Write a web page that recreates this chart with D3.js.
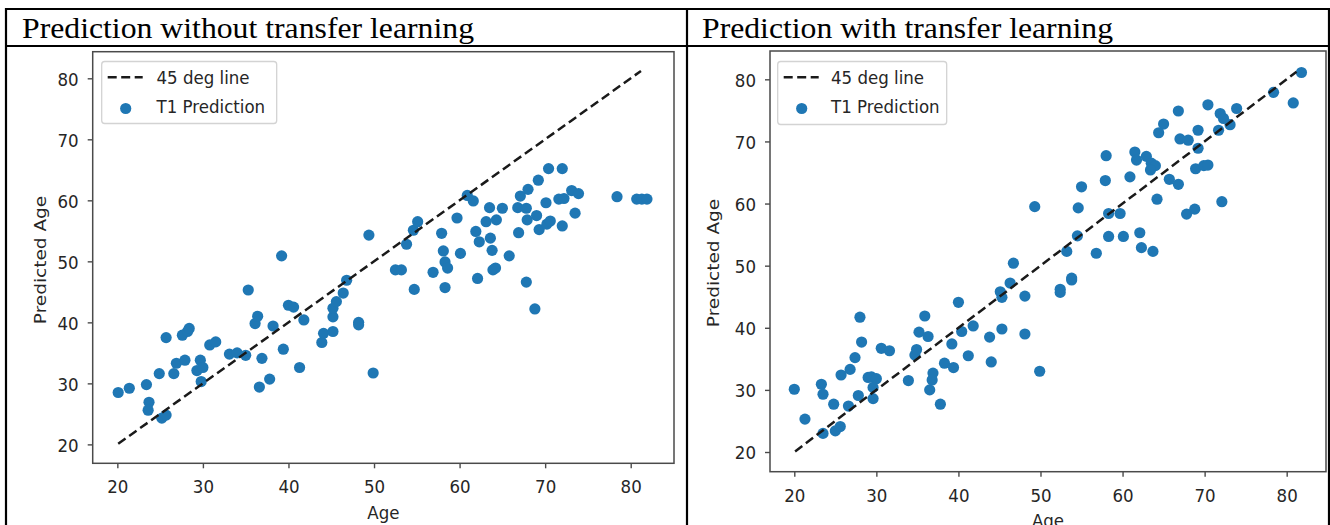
<!DOCTYPE html>
<html>
<head>
<meta charset="utf-8">
<script src="https://cdn.jsdelivr.net/npm/d3@7/dist/d3.min.js"></script>
<style>
  html, body { margin: 0; padding: 0; background: #fff; }
  svg { display: block; }
</style>
</head>
<body>
<svg id="chart" width="1330" height="525"></svg>
<script>
// ---------------- DATA ----------------
const panelTitles = ["Prediction without transfer learning", "Prediction with transfer learning"];
const legendLabels = ["45 deg line", "T1 Prediction"];
const xLabel = "Age";
const yLabel = "Predicted Age";
const xTicks = [20, 30, 40, 50, 60, 70, 80];
const yTicks = [20, 30, 40, 50, 60, 70, 80];
const lineEnds = [20.1, 81.2];

// Panel 1: without transfer learning
const leftAge = [20.1,21.4,23.4,23.7,23.6,24.9,25.7,25.2,25.7,26.6,26.9,27.6,28.2,28.4,27.9,29.3,29.7,30.0,29.8,30.8,
  31.5,33.1,34.0,35.0,35.3,36.1,36.4,36.9,36.6,37.8,38.2,39.4,40.0,40.6,41.3,41.8,43.9,44.1,45.2,45.2,
  45.2,45.6,46.4,39.2,46.8,49.4,53.8,54.6,55.1,52.5,53.2,54.7,56.9,57.9,58.1,58.3,58.6,58.3,59.7,60.1,
  60.9,61.6,61.9,62.3,62.1,63.1,63.5,63.6,63.8,64.3,65.0,63.9,64.2,65.8,66.9,66.8,67.1,67.8,68.0,67.8,
  67.9,69.0,69.2,69.3,70.1,70.4,70.2,70.6,72.0,72.0,71.6,72.2,73.1,73.9,73.5,78.4,80.7,81.3,81.9,68.8,
  48.2,48.2,49.9];
const leftPred = [28.5,29.2,29.8,26.9,25.6,31.6,37.5,24.3,24.8,31.6,33.3,37.9,38.5,39.0,33.8,32.1,33.8,32.6,30.3,36.3,
  36.8,34.8,35.0,34.6,45.3,39.8,41.0,34.1,29.4,30.7,39.4,35.6,42.8,42.5,32.6,40.4,36.7,38.2,38.5,40.9,
  42.3,43.4,44.8,50.9,46.9,54.3,52.8,55.1,56.5,48.6,48.6,45.4,48.2,54.6,51.7,49.9,48.9,45.7,57.1,51.3,
  60.8,59.9,54.9,53.2,47.2,56.5,58.8,53.8,51.8,56.8,58.7,48.6,48.9,50.9,54.7,58.8,60.7,46.6,61.8,58.7,
  56.8,57.5,63.3,55.2,59.6,65.2,56.1,56.6,65.2,55.8,60.2,60.3,61.6,61.1,57.9,60.6,60.2,60.2,60.2,42.2,
  40.0,39.6,31.7];

// Panel 2: with transfer learning
const rightAge = [20.0,21.3,23.3,23.5,23.5,24.8,25.0,25.6,25.7,26.6,26.8,27.4,28.0,28.2,27.8,29.0,29.4,30.0,29.6,29.6,
  30.6,31.6,33.9,34.7,34.9,35.2,35.9,36.3,36.5,36.9,36.8,37.8,38.3,39.2,39.4,40.0,40.4,41.2,41.8,43.8,
  44.0,45.3,45.1,45.3,48.1,48.1,49.9,52.4,53.8,46.3,81.8,78.4,80.8,70.4,66.8,65.0,64.4,67.0,68.0,69.2,
  69.2,71.9,73.9,73.1,71.7,72.3,68.9,69.9,70.4,72.1,61.5,61.7,62.9,63.5,64.0,63.4,58.0,57.9,60.9,64.2,
  65.7,66.8,67.8,68.8,55.0,54.6,49.3,58.3,59.7,58.3,60.1,62.1,62.3,63.7,56.8,54.5,53.2,46.7,53.8,52.4];
const rightPred = [30.1,25.3,30.9,29.3,23.0,27.7,23.4,24.1,32.4,27.4,33.3,35.2,41.7,37.7,29.1,32.0,32.1,31.8,28.6,30.4,
  36.7,36.3,31.5,35.6,36.5,39.3,41.9,38.6,30.0,32.7,31.6,27.7,34.3,37.4,33.6,44.1,39.4,35.5,40.3,38.5,
  34.5,39.8,45.8,44.9,45.1,39.0,33.0,45.7,47.7,47.2,81.1,77.9,76.2,75.9,74.9,72.8,71.4,70.4,70.2,71.8,
  68.9,74.5,75.3,72.7,71.8,73.7,65.6,66.1,66.2,60.3,68.3,67.0,67.6,66.5,66.1,65.4,67.7,63.7,64.3,60.7,
  63.9,63.1,58.3,59.1,62.7,59.3,59.5,58.4,58.4,54.7,54.7,55.3,52.9,52.3,52.0,54.8,52.3,50.4,48.0,46.2];

// ---------------- LAYOUT / STYLE ----------------
const SX = 0.9;                 // horizontal squeeze of the photographed figure
const FS = 18.5;                // chart font size
const FONT = "'DejaVu Sans', sans-serif";
const BLUE = "#1f77b4";
const INK = "#262626";
const SPINE = "#4a4a4a";

const panels = [
  { title: panelTitles[0], titleX: 22, titleLen: 452, age: leftAge, pred: leftPred,
    box: {x0: 92.7, x1: 674, y0: 51.7, y1: 463.3}, xd: [17.12, 85.06], yd: [16.9, 84.36],
    ylabX: 45.7, ylabY: 260, xlabY: 518.5, legend: {x: 101.7, y: 61.5, w: 175, h: 62, tx: 156.5} },
  { title: panelTitles[1], titleX: 702, titleLen: 411, age: rightAge, pred: rightPred,
    box: {x0: 770, x1: 1326, y0: 51, y1: 471.7}, xd: [17.04, 84.79], yd: [16.83, 84.56],
    ylabX: 719, ylabY: 263, xlabY: 526.5, legend: {x: 777.7, y: 61.5, w: 169, h: 63, tx: 831} }
];

const svg = d3.select("#chart");
svg.append("rect").attr("width", 1330).attr("height", 525).attr("fill", "#fff");

function htext(g, x, y, str, anchor) {
  return g.append("text")
    .attr("transform", `translate(${x},${y}) scale(${SX},1)`)
    .attr("text-anchor", anchor || "start")
    .attr("font-family", FONT).attr("font-size", FS).attr("fill", INK)
    .text(str);
}

panels.forEach((p, idx) => {
  const g = svg.append("g").attr("class", "panel" + idx);
  const x = d3.scaleLinear().domain(p.xd).range([p.box.x0, p.box.x1]);
  const y = d3.scaleLinear().domain(p.yd).range([p.box.y1, p.box.y0]);

  // panel title (table header, serif)
  svg.append("text")
    .attr("x", p.titleX).attr("y", 38)
    .attr("font-family", "'Liberation Serif', 'Times New Roman', serif")
    .attr("font-size", 30).attr("fill", "#000")
    .attr("textLength", p.titleLen).attr("lengthAdjust", "spacingAndGlyphs")
    .text(p.title);

  // scatter (below line, like matplotlib zorder)
  const pts = p.age.map((a, i) => ({a: a, b: p.pred[i]}));
  g.append("g").selectAll("circle").data(pts).join("circle")
    .attr("cx", d => x(d.a)).attr("cy", d => y(d.b))
    .attr("r", 5.6).attr("fill", BLUE);

  // 45 degree dashed line
  const line = d3.line().x(d => x(d)).y(d => y(d));
  g.append("path").datum(lineEnds).attr("d", line)
    .attr("fill", "none").attr("stroke", "#1a1a1a").attr("stroke-width", 2.5)
    .attr("stroke-dasharray", "9,4.5");

  // axes
  const xAxis = d3.axisBottom(x).tickValues(xTicks).tickSize(5).tickFormat(d3.format("d"));
  const yAxis = d3.axisLeft(y).tickValues(yTicks).tickSize(5).tickFormat(d3.format("d"));
  const gx = g.append("g").attr("transform", `translate(0,${p.box.y1})`).call(xAxis);
  const gy = g.append("g").attr("transform", `translate(${p.box.x0},0)`).call(yAxis);
  [gx, gy].forEach(ax => {
    ax.select(".domain").remove();
    ax.selectAll(".tick line").attr("stroke", SPINE).attr("stroke-width", 1.4);
    ax.selectAll(".tick text").attr("font-family", FONT).attr("font-size", FS).attr("fill", INK);
  });
  gx.selectAll(".tick text").attr("y", 30).attr("dy", 0)
    .attr("transform", `scale(${SX},1)`);
  gy.selectAll(".tick text").attr("x", -14 / SX).attr("dy", 0).attr("y", 6.7)
    .attr("transform", `scale(${SX},1)`);

  // spines
  g.append("rect")
    .attr("x", p.box.x0).attr("y", p.box.y0)
    .attr("width", p.box.x1 - p.box.x0).attr("height", p.box.y1 - p.box.y0)
    .attr("fill", "none").attr("stroke", SPINE).attr("stroke-width", 1.5);

  // axis labels
  htext(g, (p.box.x0 + p.box.x1) / 2, p.xlabY, xLabel, "middle");
  g.append("text")
    .attr("transform", `translate(${p.ylabX},${p.ylabY}) scale(${SX},1) rotate(-90)`)
    .attr("text-anchor", "middle")
    .attr("font-family", FONT).attr("font-size", FS).attr("fill", INK)
    .text(yLabel);

  // legend
  const L = p.legend;
  const lg = g.append("g");
  lg.append("rect").attr("x", L.x).attr("y", L.y).attr("width", L.w).attr("height", L.h)
    .attr("rx", 3).attr("fill", "#fff").attr("fill-opacity", 0.85)
    .attr("stroke", "#d3d3d3").attr("stroke-width", 1.3);
  lg.append("line").attr("x1", L.x + 6).attr("x2", L.x + 41).attr("y1", L.y + 15.8).attr("y2", L.y + 15.8)
    .attr("stroke", "#1a1a1a").attr("stroke-width", 2.5).attr("stroke-dasharray", "9,4.5");
  lg.append("circle").attr("cx", L.x + 24).attr("cy", L.y + 47).attr("r", 5.6).attr("fill", BLUE);
  htext(lg, L.tx, L.y + 22.8, legendLabels[0]);
  htext(lg, L.tx, L.y + 51.2, legendLabels[1]);
});

// table borders
const borders = [
  {x1: 5, y1: 9, x2: 1330, y2: 9},
  {x1: 5, y1: 46, x2: 1330, y2: 46},
  {x1: 6, y1: 8, x2: 6, y2: 525},
  {x1: 687, y1: 8, x2: 687, y2: 525},
  {x1: 1329, y1: 8, x2: 1329, y2: 525}
];
svg.append("g").selectAll("line").data(borders).join("line")
  .attr("x1", d => d.x1).attr("y1", d => d.y1).attr("x2", d => d.x2).attr("y2", d => d.y2)
  .attr("stroke", "#000").attr("stroke-width", 2.2);
</script>
</body>
</html>
